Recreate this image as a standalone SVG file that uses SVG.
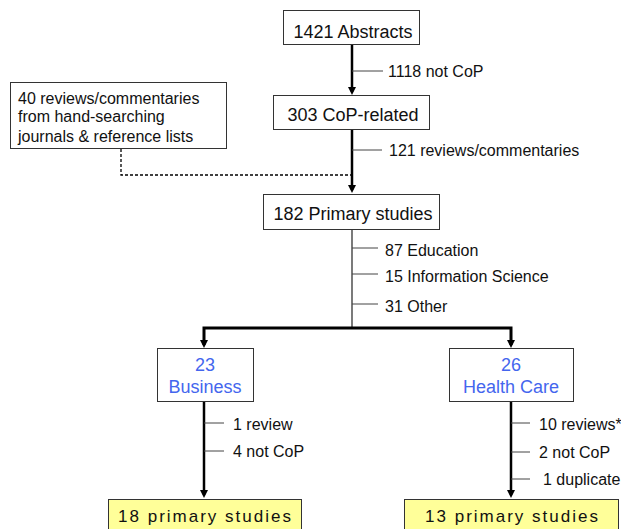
<svg xmlns="http://www.w3.org/2000/svg" width="621" height="529" viewBox="0 0 621 529">
<style>
  .box { fill: #ffffff; stroke: #333333; stroke-width: 1; }
  .final { fill: #ffff99; stroke: #333333; stroke-width: 1; }
  .bt { font-family: "Liberation Sans", Arial, sans-serif; font-size: 18px; fill: #111111; text-anchor: middle; }
  .blue { fill: #4466ee; }
  .fin { font-family: "Liberation Sans", Arial, sans-serif; font-size: 17px; letter-spacing: 2px; fill: #111111; text-anchor: middle; }
  .lbl { font-family: "Liberation Sans", Arial, sans-serif; font-size: 16px; fill: #111111; }
  .thick { fill: none; stroke: #000000; stroke-width: 2.5; }
  .thin { fill: none; stroke: #222222; stroke-width: 1.2; }
  .tick { fill: none; stroke: #444444; stroke-width: 1; }
  .dash { fill: none; stroke: #000000; stroke-width: 1.3; stroke-dasharray: 3 2; }
</style>
<defs>
  <marker id="arrow" viewBox="0 0 8 8" refX="5" refY="4" markerWidth="8" markerHeight="8" markerUnits="userSpaceOnUse" orient="auto">
    <path d="M0,0 L8,4 L0,8 z" fill="#000000"/>
  </marker>
</defs>

<g id="connectors">
  <path class="thick" d="M352,44 V92" marker-end="url(#arrow)"/>
  <path class="thick" d="M352,129 V190" marker-end="url(#arrow)"/>
  <path class="dash" d="M121,149 V175 H351"/>
  <path class="thin" d="M352,229 V328"/>
  <path class="thick" style="stroke-width:3" d="M352,328 H204 V345" marker-end="url(#arrow)"/>
  <path class="thick" style="stroke-width:3" d="M352,328 H511 V345" marker-end="url(#arrow)"/>
  <path class="thick" d="M204,401 V495" marker-end="url(#arrow)"/>
  <path class="thick" d="M511,401 V495" marker-end="url(#arrow)"/>
  <path class="tick" d="M352,71 H383"/>
  <path class="tick" d="M352,150 H382"/>
  <path class="tick" d="M352,248 H378"/>
  <path class="tick" d="M352,274 H378"/>
  <path class="tick" d="M352,304 H378"/>
  <path class="tick" d="M204,423 H224"/>
  <path class="tick" d="M204,451 H224"/>
  <path class="tick" d="M511,423 H530"/>
  <path class="tick" d="M511,452 H530"/>
  <path class="tick" d="M511,479 H530"/>
  <text class="lbl" x="388" y="76.5">1118 not CoP</text>
  <text class="lbl" x="389" y="155.5">121 reviews/commentaries</text>
  <text class="lbl" x="385" y="256">87 Education</text>
  <text class="lbl" x="385" y="281.5">15 Information Science</text>
  <text class="lbl" x="385" y="311.5">31 Other</text>
  <text class="lbl" x="233" y="430">1 review</text>
  <text class="lbl" x="233" y="457">4 not CoP</text>
  <text class="lbl" x="539" y="430">10 reviews*</text>
  <text class="lbl" x="539" y="458">2 not CoP</text>
  <text class="lbl" x="543" y="484.5">1 duplicate</text>
</g>

<g id="abstracts">
  <rect class="box" x="283.5" y="10.5" width="136" height="34"/>
  <text class="bt" x="353" y="37.5">1421 Abstracts</text>
</g>

<g id="handsearch">
  <rect class="box" x="10.5" y="82.5" width="216" height="66"/>
  <text class="lbl" x="18" y="103.5">40 reviews/commentaries</text>
  <text class="lbl" x="18" y="121.5">from hand-searching</text>
  <text class="lbl" x="18" y="141.5">journals &amp; reference lists</text>
</g>

<g id="cop">
  <rect class="box" x="273.5" y="95.5" width="156" height="34"/>
  <text class="bt" x="353" y="121">303 CoP-related</text>
</g>

<g id="primary">
  <rect class="box" x="263.5" y="194.5" width="176" height="35"/>
  <text class="bt" x="353" y="220">182 Primary studies</text>
</g>

<g id="business">
  <rect class="box" x="157.5" y="348.5" width="96" height="53"/>
  <text class="bt blue" x="205" y="371">23</text>
  <text class="bt blue" x="205" y="393">Business</text>
</g>

<g id="healthcare">
  <rect class="box" x="449.5" y="348.5" width="124" height="53"/>
  <text class="bt blue" x="511" y="371">26</text>
  <text class="bt blue" x="511" y="393">Health Care</text>
</g>

<g id="final-business">
  <rect class="final" x="108.5" y="499.5" width="193" height="34"/>
  <text class="fin" x="205.5" y="522">18 primary studies</text>
</g>

<g id="final-healthcare">
  <rect class="final" x="404.5" y="499.5" width="214" height="34"/>
  <text class="fin" x="512.5" y="522">13 primary studies</text>
</g>
</svg>
